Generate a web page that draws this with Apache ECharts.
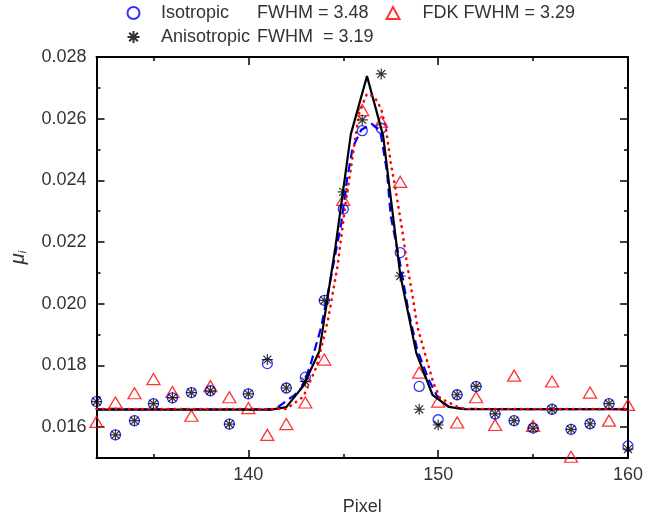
<!DOCTYPE html>
<html style="height: 100%">
    <head>
        <meta charset="utf-8">
    </head>
    <body style="height: 100%; margin: 0">
        <div id="container" style="width: 646px; height: 521px"></div>

        <script type="text/javascript" src="https://cdn.jsdelivr.net/npm/echarts@6/dist/echarts.min.js"></script>
        <script type="text/javascript">
// measured points, one per pixel
var pixels = [132,133,134,135,136,137,138,139,140,141,142,143,144,145,146,147,148,149,150,151,152,153,154,155,156,157,158,159,160];
var isoData = [0.01683,0.01575,0.01621,0.01676,0.01695,0.01712,0.01718,0.01610,0.01708,0.01806,0.01727,0.01762,0.02011,0.02307,0.02561,0.02569,0.02166,0.01732,0.01624,0.01705,0.01732,0.01643,0.01621,0.01597,0.01658,0.01593,0.01611,0.01676,0.01539];
var anisoData = [0.01683,0.01575,0.01621,0.01676,0.01695,0.01712,0.01718,0.01610,0.01708,0.01819,0.01727,0.01748,0.02011,0.02363,0.02596,0.02745,0.02090,0.01658,0.01607,0.01705,0.01732,0.01643,0.01621,0.01597,0.01658,0.01593,0.01611,0.01676,0.01529];
var fdkData = [0.01617,0.01680,0.01710,0.01756,0.01714,0.01637,0.01733,0.01697,0.01662,0.01575,0.01610,0.01680,0.01819,0.02337,0.02628,0.02590,0.02395,0.01777,0.01683,0.01615,0.01697,0.01607,0.01767,0.01604,0.01748,0.01504,0.01712,0.01621,0.01672];

// fitted curves
var isoFitX = [132,141.4,142.45,142.8,143.25,143.85,144.4,144.9,145.2,145.5,145.95,146.5,146.95,147.3,147.5,147.95,148.45,148.9,149.5,150.0,150.55,151.3,160];
var isoFitY = [0.01658,0.01658,0.01705,0.01727,0.01797,0.01927,0.02101,0.02263,0.02404,0.02507,0.02564,0.02583,0.02560,0.02430,0.02285,0.02145,0.01971,0.01851,0.01754,0.01694,0.01667,0.01659,0.01658];
var anisoFitX = [132,141.2,142.0,142.9,143.74,144.6,145.4,146.25,147.1,148.0,148.85,149.7,150.55,151.4,160];
var anisoFitY = [0.01657,0.01657,0.01665,0.01734,0.01846,0.02190,0.02550,0.02738,0.02545,0.02095,0.01840,0.01705,0.01666,0.01658,0.01658];
var fdkFitX = [132,142.0,142.9,143.6,143.95,144.2,144.7,145.15,145.4,145.6,145.85,146.25,146.65,147.0,147.25,147.5,147.75,148.1,148.35,148.65,148.9,149.35,149.75,150.1,150.65,151.15,151.6,160];
var fdkFitY = [0.01659,0.01659,0.01699,0.01797,0.01884,0.01949,0.02122,0.02339,0.02437,0.02523,0.02621,0.02681,0.02670,0.02632,0.02567,0.02458,0.02372,0.02241,0.02133,0.02025,0.01927,0.01829,0.01743,0.01694,0.01677,0.01662,0.01659,0.01659];

// ticks
var xMajor = [140, 150, 160];
var xMinor = [135, 145, 155];
var yMajor = [0.016, 0.018, 0.020, 0.022, 0.024, 0.026, 0.028];
var yMinor = [0.017, 0.019, 0.021, 0.023, 0.025, 0.027];

var legendLabels = {
    'Isotropic': ['Isotropic', 'FWHM = 3.48'],
    'Anisotropic': ['Anisotropic', 'FWHM  = 3.19'],
    'FDK': ['FDK FWHM = 3.29', '']
};

function pairs(xs, ys) {
    var out = [];
    for (var i = 0; i < xs.length; i++) {
        out.push([xs[i], ys[i]]);
    }
    return out;
}

var dom = document.getElementById("container");
var myChart = echarts.init(dom);
var font = 'Liberation Sans, Arial, sans-serif';
var asterisk = 'path://M0,-5L0,5M-5,0L5,0M-3.6,-3.6L3.6,3.6M-3.6,3.6L3.6,-3.6';

function xAxisDef(pos, ticks, len, line, labels) {
    return {
        type: 'value', position: pos, min: 132, max: 160,
        name: labels ? 'Pixel' : '', nameLocation: 'middle', nameGap: 40,
        nameTextStyle: {fontSize: 18, color: '#333', fontFamily: font},
        axisLine: {show: line, onZero: false, lineStyle: {color: '#000', width: 2}},
        axisTick: {show: true, inside: true, length: len, customValues: ticks, lineStyle: {color: '#000', width: 1.5}},
        axisLabel: {show: labels, customValues: ticks, margin: 8, fontSize: 18, color: '#333', fontFamily: font},
        splitLine: {show: false}
    };
}
function yAxisDef(pos, ticks, len, line, labels) {
    return {
        type: 'value', position: pos, min: 0.015, max: 0.028,
        name: labels ? '{mu|μ}{sub|i}' : '', nameLocation: 'middle', nameGap: 68,
        nameTextStyle: {
            fontFamily: font, color: '#333',
            rich: {
                mu: {fontSize: 20, fontStyle: 'italic', color: '#333', fontFamily: font},
                sub: {fontSize: 11, fontStyle: 'italic', color: '#333', fontFamily: font, padding: [10, 0, 0, 0]}
            }
        },
        axisLine: {show: line, onZero: false, lineStyle: {color: '#000', width: 2}},
        axisTick: {show: true, inside: true, length: len, customValues: ticks, lineStyle: {color: '#000', width: 1.5}},
        axisLabel: {show: labels, customValues: ticks, margin: 10, fontSize: 18, color: '#333', fontFamily: font,
            formatter: function (v) { return v.toFixed(3); }},
        splitLine: {show: false}
    };
}

function legendDef(name, left, top, gap) {
    return {
        data: [name], left: left, top: top, padding: 0,
        itemWidth: 13, itemHeight: 12,
        selectedMode: false,
        formatter: function (n) {
            var t = legendLabels[n];
            return '{g|}{a|' + t[0] + '}{b|' + t[1] + '}';
        },
        textStyle: {
            fontSize: 18, color: '#333', fontFamily: font,
            rich: {
                g: {width: gap},
                a: {fontSize: 18, color: '#333', fontFamily: font, width: name === 'FDK' ? null : 96},
                b: {fontSize: 18, color: '#333', fontFamily: font}
            }
        }
    };
}

var option = {
    animation: false,
    backgroundColor: '#fff',
    grid: {left: 94, right: 15, top: 57, bottom: 63},
    legend: [
        legendDef('Isotropic', 126.5, 4, 16),
        legendDef('Anisotropic', 126.5, 28, 16),
        legendDef('FDK', 385.5, 4, 18)
    ],
    xAxis: [
        xAxisDef('bottom', xMajor, 8, true, true),
        xAxisDef('bottom', xMinor, 4, false, false),
        xAxisDef('top', xMajor, 8, true, false),
        xAxisDef('top', xMinor, 4, false, false)
    ],
    yAxis: [
        yAxisDef('left', yMajor, 8, true, true),
        yAxisDef('left', yMinor, 4, false, false),
        yAxisDef('right', yMajor, 8, true, false),
        yAxisDef('right', yMinor, 4, false, false)
    ],
    series: [
        {
            name: 'isoFit', type: 'line', data: pairs(isoFitX, isoFitY),
            showSymbol: false, symbol: 'none', clip: true,
            lineStyle: {color: '#0000ff', width: 2.2, type: [9, 5]}
        },
        {
            name: 'anisoFit', type: 'line', data: pairs(anisoFitX, anisoFitY),
            showSymbol: false, symbol: 'none', clip: true,
            lineStyle: {color: '#000', width: 2.2}
        },
        {
            name: 'fdkFit', type: 'line', data: pairs(fdkFitX, fdkFitY),
            showSymbol: false, symbol: 'none', clip: true,
            lineStyle: {color: '#ff0000', width: 2.6, type: [0.5, 6], cap: 'round'}
        },
        {
            name: 'FDK', type: 'scatter', data: pairs(pixels, fdkData),
            symbol: 'triangle', symbolSize: [13, 11],
            itemStyle: {color: 'transparent', borderColor: '#ff0000', borderWidth: 1.3}
        },
        {
            name: 'Isotropic', type: 'scatter', data: pairs(pixels, isoData),
            symbol: 'circle', symbolSize: 10,
            itemStyle: {color: 'transparent', borderColor: '#0000ff', borderWidth: 1.3}
        },
        {
            name: 'Anisotropic', type: 'scatter', data: pairs(pixels, anisoData),
            symbol: asterisk, symbolSize: 11,
            itemStyle: {color: 'transparent', borderColor: '#000', borderWidth: 1.2}
        }
    ]
};

if (option && typeof option === 'object') {
    myChart.setOption(option);
}
        </script>
    </body>
</html>
